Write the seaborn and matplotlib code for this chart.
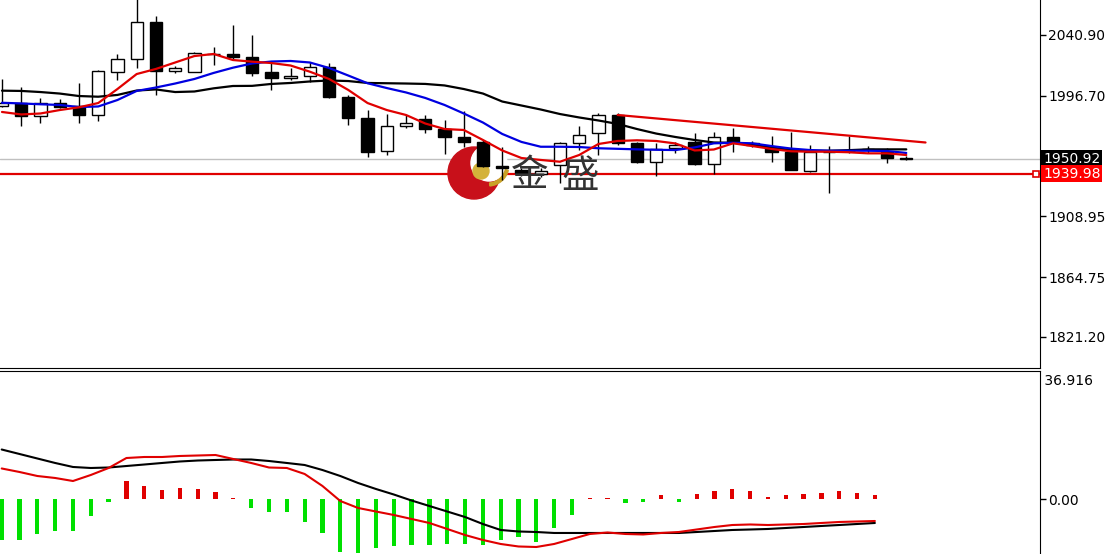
import numpy as np
import pandas as pd
import matplotlib
matplotlib.use("Agg")
import matplotlib.pyplot as plt
import seaborn as sns
from matplotlib.patches import Circle, Wedge
from matplotlib.transforms import Affine2D

sns.set_style("white")
plt.rcParams['font.family'] = ['DejaVu Sans', 'Noto Sans CJK SC']

# daily candles (price panel)
opens = [1989.2, 1991.4, 1982.0, 1991.4, 1989.2, 1982.7, 2014.0, 2023.4, 2050.4, 2014.7,
         2014.0, 2026.9, 2027.1, 2024.9, 2014.0, 2009.6, 2011.1, 2017.6, 1995.8, 1980.5,
         1956.5, 1974.7, 1979.8, 1972.5, 1966.7, 1963.1, 1945.6, 1942.7, 1939.8, 1946.3,
         1962.3, 1969.6, 1982.7, 1962.3, 1948.5, 1958.7, 1963.1, 1947.1, 1966.7, 1962.3,
         1958.7, 1955.8, 1942.0, 1955.6, 1956.6, 1958.0, 1955.8, 1951.3]
highs = [2008.9, 2003.1, 1995.1, 1994.3, 2006.0, 2015.2, 2027.1, 2069.0, 2054.7, 2018.3,
         2028.5, 2032.2, 2048.2, 2040.9, 2021.3, 2016.9, 2021.3, 2020.5, 1997.2, 1986.3,
         1983.4, 1982.7, 1982.7, 1979.1, 1985.6, 1964.5, 1959.4, 1944.1, 1944.1, 1962.8,
         1974.7, 1984.2, 1984.2, 1963.1, 1962.3, 1963.1, 1969.6, 1970.3, 1973.2, 1963.8,
         1967.4, 1970.3, 1960.9, 1960.1, 1967.4, 1960.1, 1958.7, 1952.9]
lows = [1988.5, 1974.7, 1976.9, 1987.8, 1976.9, 1978.3, 2008.2, 2016.9, 1997.2, 2013.3,
        2013.8, 2019.1, 2022.7, 2011.1, 2000.9, 2008.2, 2006.7, 1995.1, 1975.4, 1952.1,
        1953.6, 1973.2, 1969.6, 1954.3, 1959.4, 1944.9, 1935.4, 1938.3, 1937.6, 1933.2,
        1957.2, 1953.6, 1960.9, 1947.8, 1938.3, 1955.1, 1946.3, 1939.8, 1955.8, 1959.4,
        1948.5, 1942.4, 1941.2, 1925.9, 1955.1, 1955.1, 1947.8, 1950.0]
closes = [1991.4, 1982.0, 1991.4, 1988.5, 1982.7, 2014.7, 2023.4, 2050.4, 2014.7, 2016.9,
          2027.8, 2027.1, 2024.9, 2013.3, 2009.6, 2011.1, 2017.6, 1995.8, 1980.5, 1955.8,
          1974.7, 1976.9, 1972.5, 1966.7, 1963.1, 1945.6, 1944.1, 1940.5, 1942.0, 1962.3,
          1968.1, 1982.7, 1962.3, 1948.5, 1958.0, 1960.9, 1947.1, 1966.7, 1963.1, 1961.2,
          1955.8, 1942.7, 1955.8, 1955.8, 1956.5, 1958.1, 1951.4, 1950.92]

ma_red = [1984.9, 1983.1, 1983.8, 1986.3, 1988.3, 1991.4, 2001.6, 2012.5, 2016.2, 2020.9,
          2025.6, 2027.1, 2022.7, 2021.5, 2020.5, 2018.7, 2014.2, 2008.9, 2000.9, 1991.4,
          1986.3, 1982.7, 1976.5, 1972.5, 1971.8, 1964.5, 1956.9, 1951.4, 1950.0, 1948.7,
          1953.6, 1961.6, 1963.8, 1964.3, 1963.8, 1962.0, 1956.9, 1957.6, 1962.1, 1960.1,
          1958.0, 1956.3, 1956.0, 1956.0, 1955.6, 1954.8, 1954.8, 1953.6]
ma_blue = [1991.6, 1991.1, 1990.5, 1990.0, 1988.5, 1988.9, 1993.6, 2000.2, 2002.7, 2005.6,
           2008.9, 2013.3, 2017.1, 2020.2, 2021.6, 2022.0, 2020.9, 2016.9, 2011.4, 2005.8,
           2002.3, 1999.1, 1995.1, 1990.0, 1983.8, 1977.2, 1968.9, 1963.1, 1959.6, 1959.6,
           1959.4, 1958.5, 1958.1, 1957.7, 1957.4, 1957.2, 1959.1, 1962.1, 1962.5, 1962.1,
           1960.1, 1958.3, 1957.2, 1956.7, 1956.7, 1956.7, 1956.5, 1955.1]
ma_black = [2000.4, 2000.2, 1999.4, 1998.3, 1996.5, 1996.0, 1997.3, 2000.5, 2001.3, 1999.4,
            1999.8, 2002.1, 2003.8, 2003.9, 2005.3, 2006.0, 2007.1, 2007.8, 2007.4, 2006.0,
            2005.8, 2005.6, 2005.3, 2004.2, 2001.6, 1998.3, 1992.5, 1989.6, 1986.7, 1983.4,
            1980.9, 1978.7, 1976.2, 1972.5, 1969.2, 1966.7, 1964.5, 1962.7, 1962.5, 1961.2,
            1959.1, 1957.2, 1956.7, 1956.7, 1957.1, 1957.7, 1957.7, 1957.7]

trend_idx = [32, 48]
trend_price = [1982.7, 1962.7]
bid_price = 1950.92
level_price = 1939.98
price_ticks = [2040.90, 1996.70, 1908.95, 1864.75, 1821.20]

# MACD panel
macd_hist = [-11.63, -11.63, -9.91, -8.96, -8.96, -4.74, -0.63, 5.31, 3.96, 2.73,
             3.22, 2.93, 2.07, 0.3, -2.36, -3.50, -3.50, -6.38, -9.71, -15.0,
             -15.28, -14.02, -13.36, -13.07, -13.07, -12.78, -12.78, -13.07, -11.63, -10.69,
             -12.12, -8.10, -4.45, 0.3, 0.5, -0.9, -0.8, 1.24, -0.7, 1.7,
             2.4, 2.9, 2.4, 0.8, 1.2, 1.7, 1.9, 2.4, 1.9, 1.4]
macd_black = [14.36, 13.07, 11.78, 10.49, 9.34, 9.05, 9.19, 9.62, 10.05, 10.49,
              10.92, 11.20, 11.35, 11.49, 11.49, 11.06, 10.49, 9.91, 8.47, 6.75,
              4.74, 3.02, 1.44, -0.29, -1.87, -3.45, -5.03, -7.04, -8.76, -9.19,
              -9.34, -9.62, -9.62, -9.62, -9.62, -9.62, -9.62, -9.62, -9.62, -9.34,
              -9.05, -8.76, -8.62, -8.47, -8.19, -7.90, -7.61, -7.33, -7.04, -6.75]
macd_red = [8.91, 7.90, 6.75, 6.18, 5.31, 7.04, 9.05, 11.92, 12.21, 12.21,
            12.50, 12.64, 12.78, 11.63, 10.49, 9.19, 9.05, 7.33, 3.88, -0.43,
            -2.44, -3.45, -4.45, -5.60, -6.75, -8.47, -10.20, -11.63, -12.78, -13.50,
            -13.65, -12.78, -11.35, -9.91, -9.48, -9.91, -10.05, -9.62, -9.34, -8.62,
            -7.90, -7.33, -7.18, -7.33, -7.18, -7.04, -6.75, -6.46, -6.32, -6.18]
macd_top = 36.916

W, H = 1109, 554
fig = plt.figure(figsize=(W / 100, H / 100), dpi=100)
fig.patch.set_facecolor("white")
ax = fig.add_axes([0, 186 / H, 1040 / W, 368 / H])
ax2 = fig.add_axes([0, 0, 1040 / W, 183 / H])

# pixel transform (x right, y down from top-left of figure)
px = Affine2D().scale(1 / 100, -1 / 100).translate(0, H / 100) + fig.dpi_scale_trans

candles = pd.DataFrame({"open": opens, "high": highs, "low": lows, "close": closes})
candles["idx"] = np.arange(len(candles))
up = candles["close"] >= candles["open"]
body_lo = candles[["open", "close"]].min(axis=1)
body_h = (candles["close"] - candles["open"]).abs().clip(lower=0.15)

ax.axhline(bid_price, color="#c0c0c0", lw=1, zorder=1)
ax.axhline(level_price, color="#e00000", lw=1.6, zorder=1)

# watermark logo
ax.add_patch(Circle((474, 173), 26, transform=px, color="#c8101a", zorder=1.5, clip_on=False))
ax.add_patch(Circle((489, 163), 18, transform=px, color="white", zorder=1.6, clip_on=False))
ax.add_patch(Wedge((488, 165), 21, 15, 85, width=3, transform=px, color="#c9a227", zorder=1.7, clip_on=False))
ax.add_patch(Circle((481, 171), 8, transform=px, color="#d4b23a", zorder=1.8, clip_on=False))

ax.vlines(candles["idx"], candles["low"], candles["high"], color="black", lw=1, zorder=2)
ax.bar(candles["idx"], body_h, bottom=body_lo, width=0.64,
       color=np.where(up, "white", "black"), edgecolor="black", linewidth=1, zorder=2.5)

sns.lineplot(x=candles["idx"], y=ma_black, ax=ax, color="black", linewidth=1.6, zorder=3)
sns.lineplot(x=candles["idx"], y=ma_blue, ax=ax, color="#0000e0", linewidth=1.6, zorder=3.1)
sns.lineplot(x=candles["idx"], y=ma_red, ax=ax, color="#e00000", linewidth=1.6, zorder=3.2)
ax.plot(trend_idx, trend_price, color="#e00000", lw=1.6, zorder=3.3)

ax.text(511, 176, "金", transform=px, fontsize=27, color="#333333", va="center",
        family=["Noto Sans CJK SC"], zorder=4)
ax.text(561, 176, "盛", transform=px, fontsize=27, color="#333333", va="center",
        family=["Noto Sans CJK SC"], zorder=4)

ax.set_xlim(-2 / 19.24, 1038 / 19.24)
ax.set_ylim(1798.64, 2066.36)
ax.plot([1036 / 19.24 - 0.1], [level_price], marker="s", ms=4, mfc="white", mec="#e00000",
        mew=1.2, zorder=5, clip_on=False)

# MACD
hx = np.arange(len(macd_hist))
ax2.bar(hx, macd_hist, width=0.24, linewidth=0,
        color=["#e00000" if v > 0 else "#00e000" for v in macd_hist], zorder=2)
sns.lineplot(x=hx, y=macd_black, ax=ax2, color="black", linewidth=1.5, zorder=3)
sns.lineplot(x=hx, y=macd_red, ax=ax2, color="#e00000", linewidth=1.5, zorder=3)
ax2.set_xlim(-1.7 / 17.82, 1038.3 / 17.82)
ax2.set_ylim(-15.66, macd_top)

for a in (ax, ax2):
    a.set_xticks([])
    a.set_xlabel("")
    a.set_ylabel("")
    a.yaxis.tick_right()
    a.tick_params(axis="y", direction="out", length=4, width=1, pad=2, labelsize=10,
                  colors="black", right=True, left=False)
    a.spines["left"].set_visible(False)
    a.spines["right"].set_color("black")

ax.spines["top"].set_visible(False)
ax.spines["bottom"].set_color("black")
ax2.spines["bottom"].set_visible(False)
ax2.spines["top"].set_color("black")

ax.set_yticks(price_ticks)
ax.set_yticklabels([f"{v:.2f}" for v in price_ticks])
ax2.set_yticks([0])
ax2.set_yticklabels(["0.00"])
ax2.text(1.0, 0.985, f" {macd_top:.3f}", transform=ax2.transAxes, va="top", ha="left",
         fontsize=10, color="black", clip_on=False)

for price, bg in [(bid_price, "black"), (level_price, "#ff0000")]:
    ax.annotate(f"{price:.2f}", xy=(1.0, price), xycoords=("axes fraction", "data"),
                xytext=(3, 0), textcoords="offset pixels", va="center", ha="left",
                fontsize=10, color="white", annotation_clip=False,
                bbox=dict(boxstyle="square,pad=0.12", fc=bg, ec="none"))

fig.savefig("out.png", dpi=100, facecolor="white")
